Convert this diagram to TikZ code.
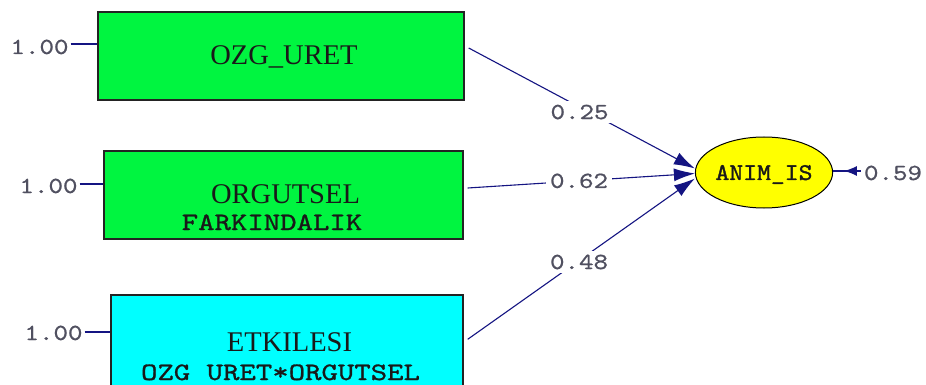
\documentclass[tikz,border=0pt]{standalone}
\usepackage{fontspec}
\setmainfont{Liberation Serif}
\usetikzlibrary{arrows.meta,calc,decorations.markings,shapes.geometric}

% typewriter faces, widened and thickened
\newfontfamily\subtype{lmmono10-regular}[Extension=.otf, FakeStretch=1.25, FakeBold=1.1]
\newfontfamily\latenttype{lmmono10-regular}[Extension=.otf, FakeStretch=1.1, FakeBold=1.5]
\newfontfamily\numtype{lmmono10-regular}[Extension=.otf, FakeStretch=1.2, FakeBold=0.8]

\definecolor{boxgreen}{RGB}{0,245,64}
\definecolor{boxcyan}{RGB}{0,255,255}
\definecolor{latentfill}{RGB}{255,255,0}
\definecolor{pathnavy}{RGB}{20,20,130}
\definecolor{numgray}{RGB}{80,80,96}
\definecolor{edgegray}{RGB}{35,35,35}
\definecolor{textdark}{RGB}{25,25,25}

\tikzset{
  obsbox/.style={draw=edgegray, line width=1.4pt, inner sep=0pt},
  title/.style={font=\fontsize{28.5}{28.5}\selectfont, text=textdark, anchor=base, inner sep=0pt},
  subtitle/.style={font=\subtype\fontsize{25}{25}\selectfont, text=textdark, anchor=base, inner sep=0pt},
  latent/.style={ellipse, draw=black, line width=1pt, fill=latentfill,
    minimum width=136pt, minimum height=71pt, inner sep=0pt, text depth=0pt,
    font=\latenttype\fontsize{24}{24}\selectfont, text=textdark},
  num/.style={font=\numtype\fontsize{23}{23}\selectfont, text=numgray, inner sep=0pt},
  coef/.style={num, fill=white, inner sep=4pt},
  conn/.style={draw=pathnavy, line width=1.1pt},
  path arrow/.style={conn, -{Latex[length=21pt,width=13pt]}},
  err arrow/.style={conn, line width=1.6pt, decoration={markings,
      mark=at position 0.65 with {\arrow{Latex[length=13pt,width=10pt]}}},
    postaction=decorate},
}

\begin{document}
\begin{tikzpicture}[x=1pt, y=-1pt]
  \useasboundingbox (0,0) rectangle (926,385);
  \clip (0,0) rectangle (926,385);
  \fill[white] (0,0) rectangle (926,385);

  % observed variables
  \node[obsbox, fill=boxgreen, minimum width=366pt, minimum height=88pt] (b1) at (281,56) {};
  \node[obsbox, fill=boxgreen, minimum width=359pt, minimum height=88pt] (b2) at (283.5,195) {};
  \node[obsbox, fill=boxcyan, minimum width=352pt, minimum height=110pt] (b3) at (287,350) {};

  \node[title] (t1) at (284,65) {OZG\_URET};
  \node[title] (t2) at (285.5,203) {ORGUTSEL};
  \node[subtitle] (s2) at (272,230) {FARKINDALIK};
  \node[title] (t3) at (289.5,351) {ETKILESI};
  \node[subtitle] (s3) at (280.5,380) {OZG URET*ORGUTSEL};

  % latent variable
  \node[latent] (ell) at (764,172.5) {ANIM\_IS};

  % error terms of the observed variables
  \node[num, anchor=base] (e1) at (39.5,54) {1.00};
  \node[num, anchor=base] (e2) at (48.5,193) {1.00};
  \node[num, anchor=base] (e3) at (53.5,340) {1.00};
  \coordinate (e1a) at ($(e1.base east)+(2,-10)$);
  \coordinate (e2a) at ($(e2.base east)+(2,-9)$);
  \coordinate (e3a) at ($(e3.base east)+(2,-8)$);
  \draw[conn] (e1a) -- (e1a -| b1.west);
  \draw[conn] (e2a) -- (e2a -| b2.west);
  \draw[conn] (e3a) -- (e3a -| b3.west);

  % structural paths
  \draw[path arrow] ([shift={(4,-8)}]b1.east) -- ([yshift=4pt]ell.west)
    node[coef, pos=0.49, yshift=-5pt] (c1) {0.25};
  \draw[path arrow] ([shift={(4,-7)}]b2.east) -- ([yshift=-1pt]ell.west)
    node[coef, pos=0.49] (c2) {0.62};
  \draw[path arrow] ([shift={(4,45)}]b3.north east) -- ([yshift=-6pt]ell.west)
    node[coef, pos=0.49, yshift=-1.5pt] (c3) {0.48};

  % error of the latent variable
  \node[num, anchor=base] (e59) at (893,180) {0.59};
  \draw[err arrow, shorten <=3pt] ([yshift=2pt]e59.west) -- ([yshift=2pt]e59.west -| ell.east);
\end{tikzpicture}
\end{document}
